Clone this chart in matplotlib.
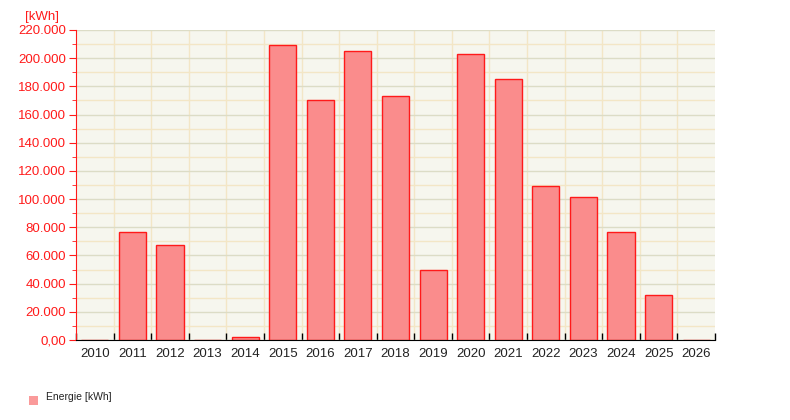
import matplotlib
matplotlib.use('Agg')
import matplotlib.pyplot as plt
from matplotlib.ticker import MultipleLocator, FuncFormatter, FixedLocator
import numpy as np

plt.rcParams['font.family'] = ['Liberation Sans', 'DejaVu Sans']

years = ['2010', '2011', '2012', '2013', '2014', '2015', '2016', '2017', '2018',
         '2019', '2020', '2021', '2022', '2023', '2024', '2025', '2026']
energy = [0, 76600, 67400, 0, 2100, 209300, 170300, 205100, 173200,
          49700, 203000, 185200, 109300, 101500, 76600, 31900, 0]

red = '#FF1A1A'
fig = plt.figure(figsize=(7.9, 4.2), dpi=100)
ax = fig.add_axes([76 / 790, 1 - 340 / 420, 639 / 790, 310 / 420])
ax.set_facecolor('#F6F6EE')

x = np.arange(len(years))
ax.bar(x, energy, width=0.72, color='#FA8C8C', edgecolor=red, linewidth=1,
       zorder=3, label='Energie [kWh]')

ax.set_xlim(-0.5, len(years) - 0.5)
ax.set_ylim(0, 220000)

# grid
ax.yaxis.set_major_locator(MultipleLocator(20000))
ax.yaxis.set_minor_locator(MultipleLocator(10000))
ax.grid(axis='y', which='major', color='#DCDCC6', linewidth=1, zorder=1)
ax.grid(axis='y', which='minor', color='#F3E6C6', linewidth=1, zorder=0)
for b in np.arange(0.5, len(years) - 0.5, 1):
    ax.axvline(b, color='#F3E6C6', linewidth=1, zorder=0)

# x axis: labels centred, ticks at boundaries
ax.xaxis.set_major_locator(FixedLocator(x))
ax.set_xticklabels(years)
ax.xaxis.set_minor_locator(FixedLocator(np.arange(-0.5, len(years), 1)))
ax.tick_params(axis='x', which='major', length=0, pad=6, labelsize=9.5,
               labelcolor='#222222')
ax.tick_params(axis='x', which='minor', direction='in', length=5,
               color='black', width=1)

def fmt(v, pos):
    if v == 0:
        return '0,00'
    return f'{int(v):,}'.replace(',', '.')

ax.yaxis.set_major_formatter(FuncFormatter(fmt))
ax.tick_params(axis='y', which='major', length=5, color=red, labelcolor=red,
               labelsize=9.5, pad=2)
ax.tick_params(axis='y', which='minor', length=3, color=red)

for s in ['top', 'right']:
    ax.spines[s].set_visible(False)
ax.spines['left'].set_color(red)
ax.spines['bottom'].set_color('black')
ax.spines['bottom'].set_zorder(5)

fig.text(25 / 790, 1 - 17 / 420, '[kWh]', color=red, fontsize=9.5,
         va='center', ha='left')

# legend
fig.patches.append(plt.Rectangle((29 / 790, 1 - 405 / 420), 9 / 790, 9 / 420,
                                 transform=fig.transFigure,
                                 facecolor='#FA9A9A', edgecolor='none'))
fig.text(46 / 790, 1 - 397 / 420, 'Energie [kWh]', fontsize=7.5,
         color='#222222', va='center', ha='left')

fig.savefig('out.png', dpi=100)
